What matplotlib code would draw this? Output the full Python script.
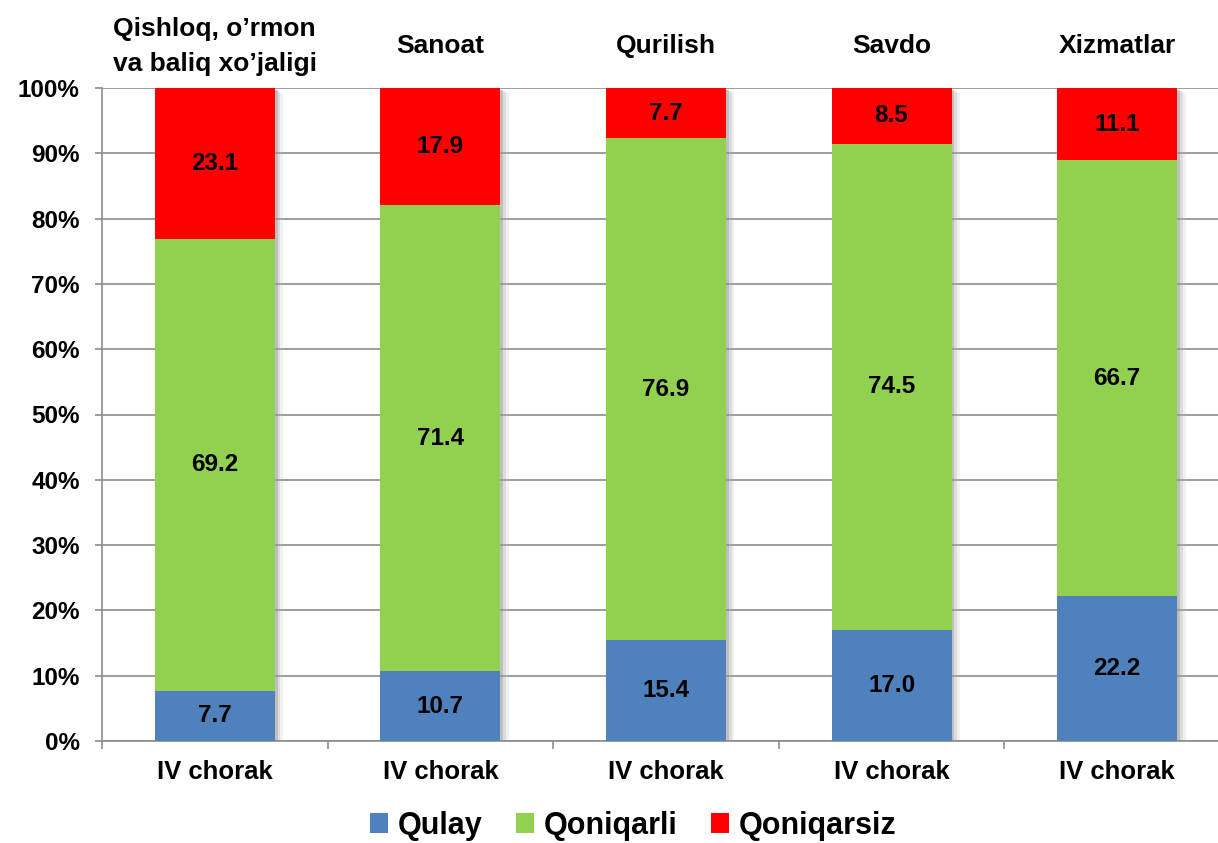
import matplotlib.pyplot as plt
import matplotlib.patheffects as pe
import numpy as np

# Data
sectors = ['Qishloq, o\u2019rmon\nva baliq xo\u2019jaligi', 'Sanoat', 'Qurilish', 'Savdo', 'Xizmatlar']
period = ['IV chorak'] * 5
qulay = [7.7, 10.7, 15.4, 17.0, 22.2]
qoniqarli = [69.2, 71.4, 76.9, 74.5, 66.7]
qoniqarsiz = [23.1, 17.9, 7.7, 8.5, 11.1]

series = [('Qulay', qulay, '#4F81BD'),
          ('Qoniqarli', qoniqarli, '#92D050'),
          ('Qoniqarsiz', qoniqarsiz, '#FF0000')]

plt.rcParams['font.family'] = ['Liberation Sans', 'DejaVu Sans']
plt.rcParams['font.weight'] = 'bold'

W, H = 1218, 843
fig = plt.figure(figsize=(W / 100, H / 100), dpi=100)
# plot area runs a bit past the right edge of the picture, as in the original
ax = fig.add_axes([102 / W, 1 - 741 / H, 1128 / W, 653 / H])

x = np.arange(len(sectors))
width = 0.532
total = np.sum([qulay, qoniqarli, qoniqarsiz], axis=0)

# soft shadow behind each full stack
shadow = [pe.SimplePatchShadow(offset=(2, -1.5), shadow_rgbFace='#777777', alpha=0.35),
          pe.SimplePatchShadow(offset=(4, -2.5), shadow_rgbFace='#999999', alpha=0.25),
          pe.SimplePatchShadow(offset=(6, -3.5), shadow_rgbFace='#bbbbbb', alpha=0.2),
          pe.Normal()]
sb = ax.bar(x, total, width, color='white', zorder=2)
for b in sb:
    b.set_path_effects(shadow)

bottom = np.zeros(len(sectors))
for name, vals, color in series:
    vals = np.array(vals)
    ax.bar(x, vals, width, bottom=bottom, color=color, label=name, zorder=3)
    for xi, v, b0 in zip(x, vals, bottom):
        ax.text(xi, b0 + v / 2, '%.1f' % v, ha='center', va='center',
                fontsize=17.5, fontweight='bold', zorder=4)
    bottom = bottom + vals

ax.set_xlim(-0.5, len(sectors) - 0.5)
ax.set_ylim(0, 100)
ax.set_yticks(np.arange(0, 101, 10))
ax.set_yticklabels(['%d%%' % v for v in range(0, 101, 10)])
ax.yaxis.grid(True, color='#8c8c8c', linewidth=1.2, zorder=0)
ax.set_axisbelow(True)

ax.set_xticks(x)
ax.set_xticklabels(period)
ax.set_xticks(np.arange(-0.5, len(sectors), 1), minor=True)
ax.tick_params(axis='x', which='major', length=0, pad=14, labelsize=18.5)
ax.tick_params(axis='x', which='minor', length=5.5, color='#8c8c8c', width=1.2)
ax.tick_params(axis='y', length=5, color='#8c8c8c', width=1.2, pad=11, labelsize=17.5)

for s in ['top', 'right']:
    ax.spines[s].set_visible(False)
for s in ['left', 'bottom']:
    ax.spines[s].set_color('#8c8c8c')
    ax.spines[s].set_linewidth(1.2)

for xi, name in zip(x, sectors):
    ax.text(xi, 1.064, name, transform=ax.get_xaxis_transform(), ha='center', va='center',
            fontsize=19, fontweight='bold', linespacing=1.6)

ax.legend(loc='center', bbox_to_anchor=(531 / 1128, -0.13), ncol=3, frameon=False,
          prop={'size': 22, 'weight': 'bold'}, handlelength=0.6, handleheight=0.6,
          handletextpad=0.3, columnspacing=1.1)

fig.savefig('out.png', dpi=100)
